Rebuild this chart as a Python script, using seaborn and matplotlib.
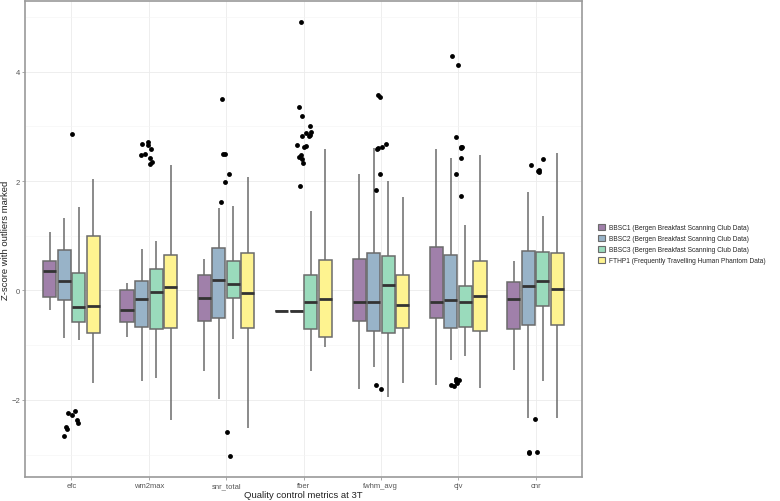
import numpy as np
import pandas as pd
import seaborn as sns
import matplotlib.pyplot as plt
from matplotlib.patches import Patch

sns.set_theme(style="whitegrid")
plt.rcParams['font.family'] = ['Liberation Sans', 'DejaVu Sans']

metrics = ["efc", "wm2max", "snr_total", "fber", "fwhm_avg", "cjv", "cnr"]
sites = ["BBSC1 (Bergen Breakfast Scanning Club Data)",
         "BBSC2 (Bergen Breakfast Scanning Club Data)",
         "BBSC3 (Bergen Breakfast Scanning Club Data)",
         "FTHP1 (Frequently Travelling Human Phantom Data)"]
colors = ["#a080aa", "#98b3c8", "#9adbbc", "#fef390"]

# lower whisker, Q1, median, Q3, upper whisker for each metric
bbsc1 = [[-0.35, -0.12, 0.35, 0.54, 1.07],
         [-0.86, -0.58, -0.35, 0.01, 0.13],
         [-1.48, -0.56, -0.14, 0.28, 0.57],
         [-0.37, -0.37, -0.37, -0.37, -0.37],
         [-1.81, -0.55, -0.21, 0.57, 2.12],
         [-1.73, -0.50, -0.21, 0.80, 2.59],
         [-1.45, -0.71, -0.16, 0.16, 0.54]]
bbsc2 = [[-0.87, -0.17, 0.165, 0.74, 1.32],
         [-1.66, -0.66, -0.16, 0.165, 0.76],
         [-1.99, -0.51, 0.19, 0.77, 1.50],
         [-0.37, -0.37, -0.37, -0.37, -0.37],
         [-1.40, -0.74, -0.21, 0.68, 2.60],
         [-1.27, -0.68, -0.18, 0.64, 2.42],
         [-2.34, -0.63, 0.08, 0.72, 1.80]]
bbsc3 = [[-0.91, -0.57, -0.30, 0.32, 1.52],
         [-1.60, -0.70, -0.02, 0.40, 0.90],
         [-0.88, -0.13, 0.12, 0.54, 1.54],
         [-1.47, -0.70, -0.21, 0.28, 1.46],
         [-1.94, -0.78, 0.10, 0.63, 2.00],
         [-1.20, -0.66, -0.22, 0.08, 1.19],
         [-1.65, -0.29, 0.165, 0.71, 1.36]]
fthp1 = [[-1.70, -0.77, -0.28, 0.99, 2.04],
         [-2.36, -0.69, 0.055, 0.64, 2.29],
         [-2.51, -0.69, -0.04, 0.69, 2.07],
         [-1.03, -0.85, -0.15, 0.55, 2.59],
         [-1.69, -0.68, -0.26, 0.29, 1.71],
         [-1.78, -0.75, -0.10, 0.54, 2.48],
         [-2.33, -0.63, 0.03, 0.68, 2.52]]

# marked outliers per metric
efc_out = [2.85, -2.21, -2.24, -2.27, -2.37, -2.43, -2.50, -2.53, -2.66]
wm2max_out = [2.71, 2.68, 2.65, 2.58, 2.49, 2.35, 2.31, 2.47, 2.42]
snr_total_out = [3.49, 2.50, 2.49, 2.12, 1.98, 1.61, -2.59, -3.02]
fber_out = [4.90, 3.36, 3.19, 3.01, 2.90, 2.88, 2.84, 2.82, 2.83,
            2.66, 2.64, 2.62, 2.47, 2.43, 2.41, 2.33, 1.91]
fwhm_avg_out = [3.57, 3.54, 2.68, 2.62, 2.60, 2.58, 2.13, 1.83, -1.72, -1.81]
cjv_out = [4.28, 4.12, 2.81, 2.63, 2.62, 2.60, 2.42, 2.12, 1.73,
           -1.62, -1.64, -1.66, -1.69, -1.72, -1.74]
cnr_out = [2.41, 2.30, 2.21, 2.19, 2.16, -2.35, -2.95, -2.96, -2.97]

rows = []
for site, stats in zip(sites, [bbsc1, bbsc2, bbsc3, fthp1]):
    for m, five in zip(metrics, stats):
        for v in five:
            rows.append({"metric": m, "site": site, "value": v})
box_df = pd.DataFrame(rows)

out_rows = []
for m, vals in zip(metrics, [efc_out, wm2max_out, snr_total_out, fber_out,
                             fwhm_avg_out, cjv_out, cnr_out]):
    for v in vals:
        out_rows.append({"metric": m, "value": v})
out_df = pd.DataFrame(out_rows)

fig = plt.figure(figsize=(7.8, 5.02), dpi=100)
ax = fig.add_axes([25 / 780, 1 - 478 / 502, 557 / 780, 476 / 502])

sns.boxplot(data=box_df, x="metric", y="value", hue="site", order=metrics,
            hue_order=sites, palette=colors, saturation=1, width=0.75, gap=0.1,
            whis=(0, 100), linewidth=1.1, linecolor="#6b6b6b", fliersize=0,
            medianprops={"color": "#333333", "linewidth": 2},
            capprops={"linewidth": 0}, legend=False, ax=ax)

np.random.seed(3)
sns.stripplot(data=out_df, x="metric", y="value", order=metrics, color="black",
              size=3.5, jitter=0.1, linewidth=0, ax=ax)

ax.set_xlim(-0.6, 6.6)
ax.set_ylim(-3.41, 5.29)
ax.set_yticks([-2, 0, 2, 4])
ax.set_yticks([-3, -1, 1, 3, 5], minor=True)
ax.grid(True, which="major", color="#ebebeb", linewidth=0.6)
ax.grid(True, which="minor", axis="y", color="#f4f4f4", linewidth=0.4)
ax.set_axisbelow(True)
for s in ax.spines.values():
    s.set_color("#9a9a9a")
    s.set_linewidth(1.2)
ax.tick_params(axis="both", which="major", labelsize=5.5, labelcolor="#555555",
               length=2, width=0.6, color="#9a9a9a", pad=1.5, bottom=True, left=True)
ax.tick_params(axis="y", which="minor", length=0)
ax.set_xlabel("Quality control metrics at 3T", fontsize=6.8, color="#222222", labelpad=0.5)
ax.set_ylabel("Z-score with outliers marked", fontsize=6.8, color="#222222", labelpad=1)

handles = [Patch(facecolor=c, edgecolor="#6b6b6b", linewidth=0.8) for c in colors]
fig.legend(handles, sites, loc="center left", bbox_to_anchor=(595 / 780, 1 - 245 / 502),
           frameon=False, fontsize=4.8, handlelength=1.05, handleheight=1.05,
           labelspacing=0.55, handletextpad=0.6, borderpad=0)

fig.savefig("out.png", dpi=100)
